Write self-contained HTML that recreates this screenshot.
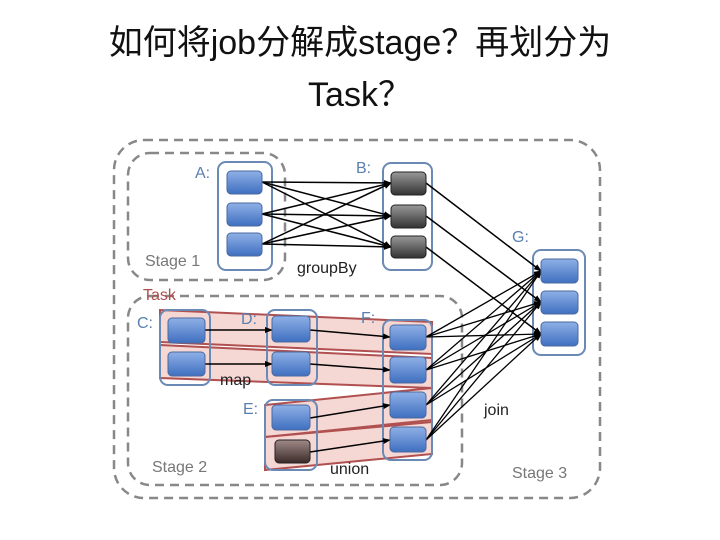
<!DOCTYPE html>
<html><head><meta charset="utf-8"><style>
body{margin:0;width:720px;height:540px;background:#fff;overflow:hidden;font-family:"Liberation Sans","Noto Sans CJK SC",sans-serif}
.t{position:absolute;left:0;width:720px;text-align:center;font-size:34px;color:#111;line-height:50px}
</style></head><body>
<div class="t" style="top:18px">如何将job分解成stage？再划分为</div>
<div class="t" style="top:70px">Task？</div>
<svg width="720" height="540" style="position:absolute;left:0;top:0">
<defs>
<linearGradient id="bl" x1="0" y1="0" x2="0" y2="1"><stop offset="0" stop-color="#8fb0e6"/><stop offset="1" stop-color="#3f6fc0"/></linearGradient>
<linearGradient id="gr" x1="0" y1="0" x2="0" y2="1"><stop offset="0" stop-color="#999"/><stop offset="1" stop-color="#333"/></linearGradient>
<linearGradient id="br" x1="0" y1="0" x2="0" y2="1"><stop offset="0" stop-color="#a08a88"/><stop offset="1" stop-color="#3a2a28"/></linearGradient>
<marker id="ar" markerWidth="8" markerHeight="8" refX="7" refY="4" orient="auto" markerUnits="userSpaceOnUse"><path d="M0,1 L8,4 L0,7z" fill="#000"/></marker>
</defs>
<g fill="none" stroke="#888" stroke-width="2.5" stroke-dasharray="9,6">
<rect x="114" y="140" width="486" height="358" rx="30"/>
<rect x="128" y="153" width="157" height="127" rx="22"/>
<rect x="128" y="296" width="334" height="189" rx="22"/>
</g>
<g fill="#f2c9c6" fill-opacity="0.75" stroke="#b05050" stroke-width="2">
<polygon points="160,310 432,322 432,354 160,342"/>
<polygon points="160,345 432,358 432,388 160,378"/>
<polygon points="265,405 432,388 432,420 265,437"/>
<polygon points="265,437 432,422 432,454 265,470"/>
</g>
<g fill="none" stroke="#6a8ab5" stroke-width="2">
<rect x="218" y="162" width="54" height="108" rx="8"/>
<rect x="383" y="163" width="49" height="107" rx="8"/>
<rect x="533" y="250" width="52" height="105" rx="8"/>
<rect x="160" y="310" width="50" height="75" rx="8"/>
<rect x="267" y="310" width="50" height="75" rx="8"/>
<rect x="383" y="320" width="49" height="140" rx="8"/>
<rect x="265" y="400" width="52" height="70" rx="8"/>
</g>
<g stroke="#000" stroke-width="1.5" marker-end="url(#ar)">
<line x1="262" y1="182" x2="391" y2="183"/><line x1="262" y1="182" x2="391" y2="216"/><line x1="262" y1="182" x2="391" y2="247"/>
<line x1="262" y1="214" x2="391" y2="183"/><line x1="262" y1="214" x2="391" y2="216"/><line x1="262" y1="214" x2="391" y2="247"/>
<line x1="262" y1="244" x2="391" y2="183"/><line x1="262" y1="244" x2="391" y2="216"/><line x1="262" y1="244" x2="391" y2="247"/>
<line x1="426" y1="183" x2="541" y2="271"/><line x1="426" y1="216" x2="541" y2="302"/><line x1="426" y1="247" x2="541" y2="334"/>
<line x1="205" y1="330" x2="272" y2="330"/><line x1="205" y1="364" x2="272" y2="364"/>
<line x1="310" y1="330" x2="390" y2="337"/><line x1="310" y1="364" x2="390" y2="370"/>
<line x1="310" y1="418" x2="390" y2="405"/><line x1="310" y1="452" x2="390" y2="440"/>
</g>
<g stroke="#000" stroke-width="1.3" marker-end="url(#ar)">
<line x1="426" y1="337" x2="541" y2="271"/><line x1="426" y1="337" x2="541" y2="302"/><line x1="426" y1="337" x2="541" y2="334"/>
<line x1="426" y1="370" x2="541" y2="271"/><line x1="426" y1="370" x2="541" y2="302"/><line x1="426" y1="370" x2="541" y2="334"/>
<line x1="426" y1="405" x2="541" y2="271"/><line x1="426" y1="405" x2="541" y2="302"/><line x1="426" y1="405" x2="541" y2="334"/>
<line x1="426" y1="440" x2="541" y2="271"/><line x1="426" y1="440" x2="541" y2="302"/><line x1="426" y1="440" x2="541" y2="334"/>
</g>
<g fill="url(#bl)" stroke="#4a6aa0" stroke-width="1">
<rect x="227" y="171" width="35" height="23" rx="4"/><rect x="227" y="203" width="35" height="23" rx="4"/><rect x="227" y="233" width="35" height="23" rx="4"/>
<rect x="541" y="259" width="37" height="24" rx="4"/><rect x="541" y="291" width="37" height="23" rx="4"/><rect x="541" y="322" width="37" height="24" rx="4"/>
<rect x="168" y="318" width="37" height="25" rx="4"/><rect x="168" y="352" width="37" height="24" rx="4"/>
<rect x="272" y="316" width="38" height="26" rx="4"/><rect x="272" y="352" width="38" height="24" rx="4"/>
<rect x="390" y="325" width="36" height="25" rx="4"/><rect x="390" y="357" width="36" height="26" rx="4"/><rect x="390" y="392" width="36" height="26" rx="4"/><rect x="390" y="427" width="36" height="25" rx="4"/>
<rect x="272" y="405" width="38" height="25" rx="4"/>
</g>
<g fill="url(#gr)" stroke="#222"><rect x="391" y="172" width="35" height="23" rx="4"/><rect x="391" y="205" width="35" height="23" rx="4"/><rect x="391" y="236" width="35" height="22" rx="4"/></g>
<rect x="275" y="440" width="35" height="23" rx="4" fill="url(#br)" stroke="#222"/>
<g font-family="Liberation Sans, sans-serif" font-size="16">
<g fill="#5a7fb0"><text x="195" y="178">A:</text><text x="356" y="173">B:</text><text x="512" y="242">G:</text><text x="137" y="328">C:</text><text x="241" y="324">D:</text><text x="361" y="323">F:</text><text x="243" y="414">E:</text></g>
<g fill="#777"><text x="145" y="266">Stage 1</text><text x="152" y="472">Stage 2</text><text x="512" y="478">Stage 3</text></g>
<g fill="#222"><text x="297" y="273">groupBy</text><text x="220" y="385">map</text><text x="484" y="415">join</text><text x="330" y="474">union</text></g>
<text x="143" y="300" fill="#b05050">Task</text>
</g>
</svg>
</body></html>
